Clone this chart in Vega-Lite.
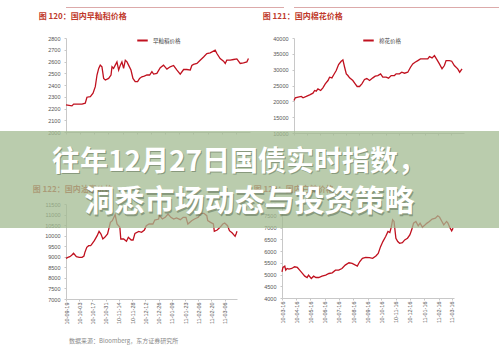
{
"$schema": "https://vega.github.io/schema/vega-lite/v6.json",
"background": "white",
"padding": {"left": 0, "top": 1, "right": 0, "bottom": 0},
"config": {
  "view": {"stroke": null},
  "axis": {"labelFont": "Liberation Sans", "labelFontSize": 5.5, "labelColor": "#555", "domainColor": "#c8c8c8", "tickColor": "#c8c8c8", "tickSize": 2, "labelPadding": 4, "grid": false},
  "axisX": {"labelPadding": 1},
  "legend": {"labelFont": "Noto Sans CJK SC", "labelFontSize": 5.5, "labelColor": "#444", "symbolType": "stroke", "symbolStrokeWidth": 2, "symbolSize": 110},
  "title": {"font": "Noto Sans CJK SC", "fontSize": 8, "fontWeight": "bold", "color": "#c0392b", "anchor": "start", "frame": "bounds"}
},
"bounds": "flush",
"spacing": 124,
"vconcat": [
  {"spacing": 0, "hconcat": [
    {"width": 32, "height": 1, "data": {"values": [{}]}, "mark": "text", "encoding": {"text": {"value": ""}}},
    {"spacing": 0, "vconcat": [
      {"spacing": 10, "hconcat": [
        {"width": 218, "height": 1, "view": {"fill": "#dcaaaa"}, "data": {"values": [{}]}, "mark": "text", "encoding": {"text": {"value": ""}}},
        {"width": 218, "height": 1, "view": {"fill": "#dcaaaa"}, "data": {"values": [{}]}, "mark": "text", "encoding": {"text": {"value": ""}}}
      ]},
      {"spacing": 49, "vconcat": [
        {"spacing": 10, "resolve": {"scale": {"color": "independent"}, "legend": {"color": "independent"}}, "hconcat": [
          {"width": 184, "height": 94,
           "title": {"text": "图 120：国内早籼稻价格", "dx": -9, "offset": 13},
           "data": {"values": [
             {"week": 0, "price": 2231}, {"week": 4.2, "price": 2222}, {"week": 5.4, "price": 2237}, {"week": 11.3, "price": 2237}, {"week": 13.6, "price": 2245},
             {"week": 14.8, "price": 2296}, {"week": 17.2, "price": 2301}, {"week": 19.1, "price": 2330}, {"week": 20.7, "price": 2386}, {"week": 21.9, "price": 2485},
             {"week": 23.1, "price": 2541}, {"week": 24.2, "price": 2569}, {"week": 25.4, "price": 2555}, {"week": 26.6, "price": 2456}, {"week": 27.8, "price": 2442},
             {"week": 30.1, "price": 2456}, {"week": 31.8, "price": 2485}, {"week": 32.5, "price": 2555}, {"week": 33.6, "price": 2541}, {"week": 34.8, "price": 2569},
             {"week": 36, "price": 2597}, {"week": 37.2, "price": 2527}, {"week": 38.4, "price": 2569}, {"week": 39.5, "price": 2597}, {"week": 40.7, "price": 2541},
             {"week": 41.9, "price": 2611}, {"week": 43.1, "price": 2597}, {"week": 44.2, "price": 2569}, {"week": 45.9, "price": 2527}, {"week": 47.3, "price": 2456},
             {"week": 48.9, "price": 2428}, {"week": 50.6, "price": 2428}, {"week": 52, "price": 2456}, {"week": 53.6, "price": 2470}, {"week": 55.3, "price": 2476},
             {"week": 57.2, "price": 2485}, {"week": 59.1, "price": 2485}, {"week": 60.7, "price": 2513}, {"week": 61.9, "price": 2493}, {"week": 64.2, "price": 2499},
             {"week": 66.6, "price": 2547}, {"week": 68.9, "price": 2569}, {"week": 71.3, "price": 2535}, {"week": 73.6, "price": 2555}, {"week": 76, "price": 2566},
             {"week": 78.4, "price": 2527}, {"week": 80.7, "price": 2493}, {"week": 83.1, "price": 2532}, {"week": 85.4, "price": 2532}, {"week": 87.8, "price": 2527},
             {"week": 88.9, "price": 2566}, {"week": 90.1, "price": 2575}, {"week": 92.5, "price": 2583}, {"week": 94.8, "price": 2611}, {"week": 97.2, "price": 2639},
             {"week": 99.5, "price": 2668}, {"week": 101.9, "price": 2673}, {"week": 105.4, "price": 2696}, {"week": 106.6, "price": 2668}, {"week": 108.9, "price": 2625},
             {"week": 111.3, "price": 2603}, {"week": 112.5, "price": 2583}, {"week": 113.6, "price": 2611}, {"week": 116, "price": 2611}, {"week": 118.4, "price": 2617},
             {"week": 120.7, "price": 2622}, {"week": 123.1, "price": 2583}, {"week": 125.4, "price": 2589}, {"week": 127.8, "price": 2597}, {"week": 128.9, "price": 2625}
           ]},
           "mark": {"type": "line", "strokeWidth": 1.3},
           "encoding": {
             "x": {"field": "week", "type": "quantitative", "scale": {"domain": [0, 130], "nice": false}, "axis": {"title": null, "labels": false, "values": [0, 10, 20, 30, 40, 50, 60, 70, 80, 90, 100, 110, 120]}},
             "y": {"field": "price", "type": "quantitative", "scale": {"domain": [2000, 2800], "nice": false, "zero": false}, "axis": {"title": null, "format": "d", "values": [2000, 2100, 2200, 2300, 2400, 2500, 2600, 2700, 2800]}},
             "color": {"datum": "早籼稻价格", "scale": {"range": ["#c0111f"]}, "legend": {"title": null, "orient": "none", "legendX": 70, "legendY": -4}}
           }
          },
          {"width": 170, "height": 95,
           "title": {"text": "图 121：国内棉花价格", "dx": -10, "offset": 13},
           "data": {"values": [
             {"week": 0, "price": 20280}, {"week": 1, "price": 21120}, {"week": 3.1, "price": 21330}, {"week": 5.6, "price": 21540}, {"week": 6.9, "price": 21120},
             {"week": 9.4, "price": 21540}, {"week": 12, "price": 22060}, {"week": 14.5, "price": 22590}, {"week": 15.8, "price": 23430}, {"week": 17, "price": 23220},
             {"week": 18.3, "price": 23950}, {"week": 20.4, "price": 23430}, {"week": 22.1, "price": 24270}, {"week": 23.9, "price": 25530}, {"week": 26, "price": 26570},
             {"week": 27.2, "price": 27620}, {"week": 29, "price": 27410}, {"week": 30.5, "price": 28460}, {"week": 32.3, "price": 29720}, {"week": 34.1, "price": 31610},
             {"week": 36.1, "price": 32660}, {"week": 37.4, "price": 33080}, {"week": 38.7, "price": 30770}, {"week": 40, "price": 28670}, {"week": 41.2, "price": 28150},
             {"week": 42.5, "price": 27410}, {"week": 45, "price": 26570}, {"week": 46.8, "price": 25530}, {"week": 48.3, "price": 24690}, {"week": 50.1, "price": 24690},
             {"week": 51.9, "price": 25530}, {"week": 53.9, "price": 26890}, {"week": 55.7, "price": 27200}, {"week": 57.8, "price": 26570}, {"week": 60.3, "price": 27410},
             {"week": 62.1, "price": 27940}, {"week": 64.1, "price": 28150}, {"week": 66.2, "price": 28670}, {"week": 67.9, "price": 27620}, {"week": 70.5, "price": 27620},
             {"week": 72.3, "price": 27310}, {"week": 74.3, "price": 28150}, {"week": 76.8, "price": 28150}, {"week": 78.1, "price": 28670}, {"week": 80.7, "price": 28670},
             {"week": 82.4, "price": 29200}, {"week": 84.5, "price": 28880}, {"week": 87, "price": 29200}, {"week": 89.1, "price": 30770}, {"week": 90.8, "price": 31820},
             {"week": 92.6, "price": 32340}, {"week": 94.7, "price": 32870}, {"week": 96.7, "price": 33390}, {"week": 99.7, "price": 33390}, {"week": 102.3, "price": 33390},
             {"week": 103.6, "price": 34130}, {"week": 105.6, "price": 33710}, {"week": 107.4, "price": 34440}, {"week": 109.4, "price": 33080}, {"week": 111.2, "price": 31820},
             {"week": 113.2, "price": 30250}, {"week": 115, "price": 31300}, {"week": 116.3, "price": 32870}, {"week": 118.8, "price": 32870}, {"week": 120.6, "price": 32660},
             {"week": 122.6, "price": 31300}, {"week": 125.2, "price": 30250}, {"week": 126.7, "price": 29200}, {"week": 128.5, "price": 30250}
           ]},
           "mark": {"type": "line", "strokeWidth": 1.3},
           "encoding": {
             "x": {"field": "week", "type": "quantitative", "scale": {"domain": [0, 130], "nice": false}, "axis": {"title": null, "labels": false, "values": [0, 10, 20, 30, 40, 50, 60, 70, 80, 90, 100, 110, 120]}},
             "y": {"field": "price", "type": "quantitative", "scale": {"domain": [10000, 40000], "nice": false, "zero": false}, "axis": {"title": null, "format": "d", "values": [10000, 15000, 20000, 25000, 30000, 35000, 40000]}},
             "color": {"datum": "棉花价格", "scale": {"range": ["#c0111f"]}, "legend": {"title": null, "orient": "none", "legendX": 68, "legendY": -4}}
           }
          }
        ]},
        {"spacing": 12, "vconcat": [
          {"spacing": 13, "hconcat": [
            {"width": 171, "height": 95,
             "title": {"text": "图 122：国内油脂价格", "dx": -12, "offset": 8},
             "data": {"values": [
               {"date": "2010-09-19", "price": 8926}, {"date": "2010-09-21", "price": 8974}, {"date": "2010-09-23", "price": 9005}, {"date": "2010-09-25", "price": 9069},
               {"date": "2010-09-27", "price": 9163}, {"date": "2010-09-30", "price": 9005}, {"date": "2010-10-03", "price": 8974}, {"date": "2010-10-06", "price": 8974},
               {"date": "2010-10-08", "price": 9037}, {"date": "2010-10-09", "price": 9211}, {"date": "2010-10-11", "price": 9447}, {"date": "2010-10-13", "price": 9526},
               {"date": "2010-10-15", "price": 9526}, {"date": "2010-10-16", "price": 9574}, {"date": "2010-10-19", "price": 9763}, {"date": "2010-10-22", "price": 10000},
               {"date": "2010-10-24", "price": 10205}, {"date": "2010-10-26", "price": 10079}, {"date": "2010-10-28", "price": 9842}, {"date": "2010-10-30", "price": 9921},
               {"date": "2010-11-02", "price": 10079}, {"date": "2010-11-05", "price": 10632}, {"date": "2010-11-07", "price": 10711}, {"date": "2010-11-10", "price": 10995},
               {"date": "2010-11-12", "price": 10553}, {"date": "2010-11-15", "price": 10395}, {"date": "2010-11-16", "price": 9842}, {"date": "2010-11-19", "price": 9842},
               {"date": "2010-11-22", "price": 9732}, {"date": "2010-11-24", "price": 9921}, {"date": "2010-11-27", "price": 9795}, {"date": "2010-11-29", "price": 9795},
               {"date": "2010-12-01", "price": 10111}, {"date": "2010-12-05", "price": 10205}, {"date": "2010-12-08", "price": 10158}, {"date": "2010-12-11", "price": 10268},
               {"date": "2010-12-13", "price": 10474}, {"date": "2010-12-16", "price": 10553}, {"date": "2010-12-20", "price": 10553}, {"date": "2010-12-22", "price": 10742},
               {"date": "2010-12-26", "price": 10789}, {"date": "2010-12-27", "price": 10947}, {"date": "2010-12-30", "price": 10789}, {"date": "2011-01-02", "price": 10868},
               {"date": "2011-01-05", "price": 11026}, {"date": "2011-01-08", "price": 10868}, {"date": "2011-01-11", "price": 10789}, {"date": "2011-01-14", "price": 10837},
               {"date": "2011-01-18", "price": 10758}, {"date": "2011-01-21", "price": 10868}, {"date": "2011-01-24", "price": 10868}, {"date": "2011-01-26", "price": 10553},
               {"date": "2011-01-30", "price": 10711}, {"date": "2011-02-02", "price": 10789}, {"date": "2011-02-06", "price": 10868}, {"date": "2011-02-09", "price": 11058},
               {"date": "2011-02-12", "price": 11058}, {"date": "2011-02-15", "price": 10947}, {"date": "2011-02-16", "price": 10711}, {"date": "2011-02-19", "price": 10632},
               {"date": "2011-02-22", "price": 10553}, {"date": "2011-02-23", "price": 10205}, {"date": "2011-02-26", "price": 10268}, {"date": "2011-03-01", "price": 10395},
               {"date": "2011-03-04", "price": 10553}, {"date": "2011-03-06", "price": 10600}, {"date": "2011-03-09", "price": 10474}, {"date": "2011-03-11", "price": 10237},
               {"date": "2011-03-14", "price": 10126}, {"date": "2011-03-17", "price": 9968}, {"date": "2011-03-18", "price": 10079}, {"date": "2011-03-19", "price": 10205}
             ]},
             "mark": {"type": "line", "strokeWidth": 1.3, "color": "#c0111f"},
             "encoding": {
               "x": {"field": "date", "type": "temporal",
                     "scale": {"type": "utc", "domain": [{"year": 2010, "month": 9, "date": 19, "utc": true}, {"year": 2011, "month": 3, "date": 19, "utc": true}]},
                     "axis": {"title": null, "format": "%y-%m-%d", "labelAngle": -90, "values": [
                       {"year": 2010, "month": 9, "date": 19, "utc": true}, {"year": 2010, "month": 10, "date": 3, "utc": true}, {"year": 2010, "month": 10, "date": 17, "utc": true},
                       {"year": 2010, "month": 10, "date": 31, "utc": true}, {"year": 2010, "month": 11, "date": 14, "utc": true}, {"year": 2010, "month": 11, "date": 28, "utc": true},
                       {"year": 2010, "month": 12, "date": 12, "utc": true}, {"year": 2010, "month": 12, "date": 26, "utc": true}, {"year": 2011, "month": 1, "date": 9, "utc": true},
                       {"year": 2011, "month": 1, "date": 23, "utc": true}, {"year": 2011, "month": 2, "date": 6, "utc": true}, {"year": 2011, "month": 2, "date": 20, "utc": true},
                       {"year": 2011, "month": 3, "date": 6, "utc": true}]}},
               "y": {"field": "price", "type": "quantitative", "scale": {"domain": [7000, 11500], "nice": false, "zero": false}, "axis": {"title": null, "format": "d", "values": [7000, 7500, 8000, 8500, 9000, 9500, 10000, 10500, 11000, 11500]}}
             }
            },
            {"width": 172, "height": 94,
             "title": {"text": "图 123：国内白糖价格", "dx": -10, "offset": 8},
             "data": {"values": [
               {"date": "2010-03-16", "price": 5115}, {"date": "2010-03-18", "price": 5300}, {"date": "2010-03-22", "price": 5357}, {"date": "2010-03-24", "price": 5186},
               {"date": "2010-03-27", "price": 5257}, {"date": "2010-03-31", "price": 5229}, {"date": "2010-04-06", "price": 5257}, {"date": "2010-04-12", "price": 5329},
               {"date": "2010-04-18", "price": 5300}, {"date": "2010-04-23", "price": 5186}, {"date": "2010-04-28", "price": 5072}, {"date": "2010-05-04", "price": 4929},
               {"date": "2010-05-09", "price": 4872}, {"date": "2010-05-12", "price": 4972}, {"date": "2010-05-18", "price": 4829}, {"date": "2010-05-23", "price": 4929},
               {"date": "2010-05-28", "price": 4872}, {"date": "2010-06-03", "price": 4872}, {"date": "2010-06-10", "price": 4929}, {"date": "2010-06-18", "price": 4972},
               {"date": "2010-06-25", "price": 5043}, {"date": "2010-07-02", "price": 5072}, {"date": "2010-07-09", "price": 5186}, {"date": "2010-07-16", "price": 5186},
               {"date": "2010-07-23", "price": 5257}, {"date": "2010-07-30", "price": 5400}, {"date": "2010-08-07", "price": 5500}, {"date": "2010-08-14", "price": 5472},
               {"date": "2010-08-25", "price": 5357}, {"date": "2010-08-30", "price": 5543}, {"date": "2010-09-05", "price": 5686}, {"date": "2010-09-12", "price": 5729},
               {"date": "2010-09-20", "price": 5715}, {"date": "2010-09-27", "price": 5686}, {"date": "2010-10-04", "price": 5786}, {"date": "2010-10-09", "price": 5900},
               {"date": "2010-10-14", "price": 6186}, {"date": "2010-10-19", "price": 6400}, {"date": "2010-10-25", "price": 6615}, {"date": "2010-10-30", "price": 6829},
               {"date": "2010-11-03", "price": 6786}, {"date": "2010-11-06", "price": 7015}, {"date": "2010-11-09", "price": 7330}, {"date": "2010-11-12", "price": 7258},
               {"date": "2010-11-16", "price": 6543}, {"date": "2010-11-20", "price": 6400}, {"date": "2010-11-24", "price": 6329}, {"date": "2010-11-30", "price": 6358},
               {"date": "2010-12-05", "price": 6472}, {"date": "2010-12-11", "price": 6543}, {"date": "2010-12-16", "price": 6686}, {"date": "2010-12-20", "price": 6900},
               {"date": "2010-12-24", "price": 7186}, {"date": "2010-12-29", "price": 7258}, {"date": "2011-01-03", "price": 7072}, {"date": "2011-01-07", "price": 7186},
               {"date": "2011-01-12", "price": 7015}, {"date": "2011-01-18", "price": 7115}, {"date": "2011-01-22", "price": 7186}, {"date": "2011-01-27", "price": 7258},
               {"date": "2011-02-02", "price": 7358}, {"date": "2011-02-09", "price": 7400}, {"date": "2011-02-14", "price": 7500}, {"date": "2011-02-18", "price": 7443},
               {"date": "2011-02-23", "price": 7258}, {"date": "2011-02-27", "price": 7115}, {"date": "2011-03-05", "price": 7258}, {"date": "2011-03-08", "price": 7186},
               {"date": "2011-03-12", "price": 7000}, {"date": "2011-03-16", "price": 6858}, {"date": "2011-03-19", "price": 6972}
             ]},
             "mark": {"type": "line", "strokeWidth": 1.3, "color": "#c0111f"},
             "encoding": {
               "x": {"field": "date", "type": "temporal",
                     "scale": {"type": "utc", "domain": [{"year": 2010, "month": 3, "date": 16, "utc": true}, {"year": 2011, "month": 3, "date": 21, "utc": true}]},
                     "axis": {"title": null, "format": "%y-%m-%d", "labelAngle": -90, "values": [
                       {"year": 2010, "month": 3, "date": 16, "utc": true}, {"year": 2010, "month": 4, "date": 16, "utc": true}, {"year": 2010, "month": 5, "date": 16, "utc": true},
                       {"year": 2010, "month": 6, "date": 16, "utc": true}, {"year": 2010, "month": 7, "date": 16, "utc": true}, {"year": 2010, "month": 8, "date": 16, "utc": true},
                       {"year": 2010, "month": 9, "date": 16, "utc": true}, {"year": 2010, "month": 10, "date": 16, "utc": true}, {"year": 2010, "month": 11, "date": 16, "utc": true},
                       {"year": 2010, "month": 12, "date": 16, "utc": true}, {"year": 2011, "month": 1, "date": 16, "utc": true}, {"year": 2011, "month": 2, "date": 16, "utc": true},
                       {"year": 2011, "month": 3, "date": 16, "utc": true}]}},
               "y": {"field": "price", "type": "quantitative", "scale": {"domain": [4000, 8000], "nice": false, "zero": false}, "axis": {"title": null, "format": "d", "values": [4000, 4500, 5000, 5500, 6000, 6500, 7000, 7500, 8000]}}
             }
            }
          ]},
          {"width": 446, "height": 1, "view": {"fill": "#e2cccc"},
           "title": {"text": "数据来源：Bloomberg，东方证券研究所", "fontSize": 6, "fontWeight": "normal", "color": "#8a8a8a", "dx": 3, "offset": 3},
           "data": {"values": [{}]}, "mark": "text", "encoding": {"text": {"value": ""}}}
        ]}
      ]}
    ]}
  ]},
  {"width": 499, "height": 97,
   "view": {"fill": "#a3bb91", "fillOpacity": 0.75},
   "data": {"values": [{"line": 1, "text": "往年12月27日国债实时指数，"}, {"line": 2, "text": "洞悉市场动态与投资策略"}]},
   "encoding": {"y": {"field": "line", "type": "ordinal", "axis": null, "scale": {"padding": 0.728}}, "text": {"field": "text"}},
   "layer": [
     {"transform": [{"filter": "datum.line == 1"}], "mark": {"type": "text", "font": "Noto Sans CJK SC", "fontWeight": "bold", "fontSize": 28, "baseline": "middle", "align": "center", "color": "#4d5d44", "opacity": 0.45, "dx": -9.5, "dy": 4.5}},
     {"transform": [{"filter": "datum.line == 2"}], "mark": {"type": "text", "font": "Noto Sans CJK SC", "fontWeight": "bold", "fontSize": 30, "baseline": "middle", "align": "center", "color": "#4d5d44", "opacity": 0.45, "dx": 1, "dy": 4.5}},
     {"transform": [{"filter": "datum.line == 1"}], "mark": {"type": "text", "font": "Noto Sans CJK SC", "fontWeight": "bold", "fontSize": 28, "baseline": "middle", "align": "center", "color": "#ffffff", "dx": -10.5, "dy": 3}},
     {"transform": [{"filter": "datum.line == 2"}], "mark": {"type": "text", "font": "Noto Sans CJK SC", "fontWeight": "bold", "fontSize": 30, "baseline": "middle", "align": "center", "color": "#ffffff", "dy": 3}}
   ]
  }
]
}
